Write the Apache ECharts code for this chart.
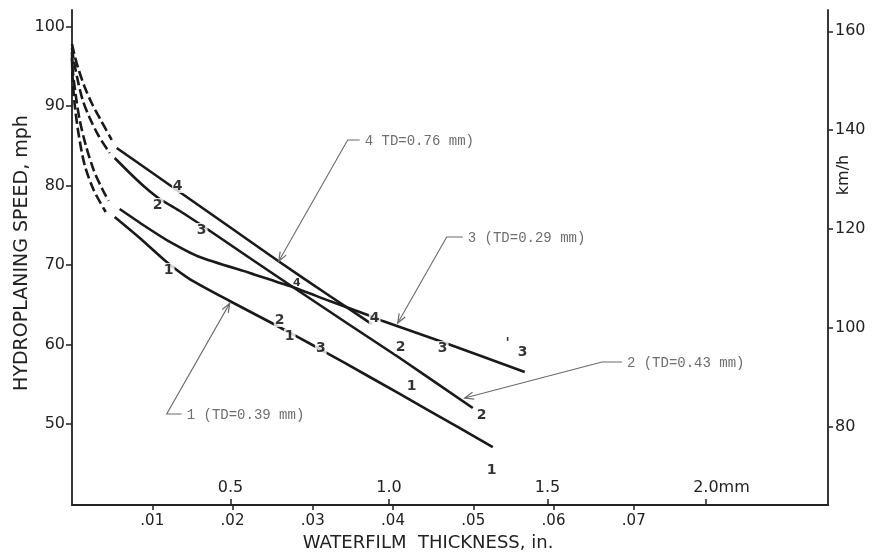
<!DOCTYPE html>
<html>
<head>
<meta charset="utf-8">
<script src="https://cdn.jsdelivr.net/npm/echarts@6/dist/echarts.min.js"></script>
<style>
html,body{margin:0;padding:0;background:#fff;}
#chart{width:886px;height:554px;}
</style>
</head>
<body>
<div id="chart"></div>
<script>
// ---- tick labels ----
const inchTicks = [0.01, 0.02, 0.03, 0.04, 0.05, 0.06, 0.07];
const mmTicks = [0.5, 1.0, 1.5, 2.0];
const mphTicks = [50, 60, 70, 80, 90, 100];
const kmhTicks = [80, 100, 120, 140, 160];

// ---- curves: [waterfilm thickness (in), hydroplaning speed (mph)] ----
const curve1Dashed = [[0,96.06],[0.00009,93.3],[0.00034,90.15],[0.00084,86.38],[0.00158,82.6],[0.0027,79.46],[0.0042,76.69]];
const curve1Solid = [[0.00532,76.06],[0.00844,73.42],[0.0118,70.4],[0.01467,68.26],[0.01965,65.5],[0.02488,62.73],[0.03087,59.46],[0.0371,55.94],[0.04458,51.66],[0.05243,47.13]];
const curve2Dashed = [[0,97.32],[0.00021,95.81],[0.00071,93.3],[0.00133,90.78],[0.00221,88.52],[0.00333,86.25],[0.0047,84.11]];
const curve2Solid = [[0.00532,83.48],[0.00719,81.6],[0.00906,79.84],[0.01094,78.33],[0.01343,76.82],[0.01629,74.93],[0.02215,70.91],[0.02751,67.26],[0.03461,62.48],[0.04084,58.33],[0.04994,52.04]];
const curve3Dashed = [[0,96.82],[0.00009,94.55],[0.00046,91.41],[0.00096,88.26],[0.00171,85.12],[0.0027,81.97],[0.00383,79.46],[0.00458,78.08]];
const curve3Solid = [[0.00594,77.07],[0.00906,74.93],[0.01181,73.17],[0.01592,71.03],[0.02215,69.02],[0.02713,67.38],[0.03211,65.5],[0.03685,63.74],[0.03872,62.98],[0.04582,60.47],[0.05641,56.57]];
const curve4Dashed = [[0,97.82],[0.00034,96.31],[0.00084,94.55],[0.00158,92.42],[0.00245,90.4],[0.00358,88.26],[0.00495,85.75]];
const curve4Solid = [[0.00557,84.74],[0.00968,81.85],[0.01305,79.46],[0.01965,74.81],[0.02551,70.65],[0.03212,66.13],[0.03735,62.6]];

// ---- numbers written along the curves: [in, mph, text] ----
const pointLabels = [
  [0.01317,79.96,'4'],[0.01068,77.57,'2'],[0.01616,74.43,'3'],[0.01205,69.4,'1'],
  [0.03772,63.36,'4'],[0.02588,63.11,'2'],[0.02713,61.1,'1'],[0.031,59.58,'3'],
  [0.04096,59.71,'2'],[0.04619,59.58,'3'],[0.05429,60.21,'\''],[0.05616,59.08,'3'],
  [0.04233,54.8,'1'],[0.05105,51.16,'2'],[0.0523,44.24,'1']
];
const smallLabels = [[0.028,67.76,'4']];

// ---- callouts ----
const calloutText = ['4 TD=0.76 mm)', '3 (TD=0.29 mm)', '2 (TD=0.43 mm)', '1 (TD=0.39 mm)'];
const calloutStart = [[0.03585,85.75],[0.04869,73.55],[0.06852,57.82],[0.01367,51.28]];
const calloutElbow = [[0.03435,85.75],[0.04669,73.55],[0.06603,57.82],[0.0118,51.28]];
const calloutTip = [[0.02576,70.5],[0.04059,62.73],[0.04893,53.3],[0.01965,65.2]];

const MPH_MIN = 39.84, MPH_MAX = 102.1, KMH_PER_MPH = 1.609344;
const INCH_MAX = 0.0942;

const ink = '#1a1a1a';
const axisInk = '#222';
const sans = '"DejaVu Sans", sans-serif';

function lineSeries(data, dashed) {
  return {
    type: 'line', data: data, xAxisIndex: 0, yAxisIndex: 0,
    showSymbol: false, symbol: 'none', smooth: dashed ? 0.3 : 0.2,
    lineStyle: { color: ink, width: 2.6, type: dashed ? [10, 4] : 'solid', cap: 'butt' },
    silent: true, z: 3
  };
}

const calloutData = calloutText.map((t, i) => [
  calloutStart[i][0], calloutStart[i][1],
  calloutElbow[i][0], calloutElbow[i][1],
  calloutTip[i][0], calloutTip[i][1]
]);

const chart = echarts.init(document.getElementById('chart'), null, { renderer: 'canvas' });
const option = {
  animation: false,
  backgroundColor: '#fff',
  grid: { left: 72, right: 58, top: 10, bottom: 49, containLabel: false, outerBoundsMode: 'none' },
  xAxis: [
    {
      type: 'value', position: 'bottom', min: 0, max: INCH_MAX,
      axisLine: { show: true, onZero: false, lineStyle: { color: axisInk, width: 1.8 } },
      axisTick: { show: true, length: 5, customValues: inchTicks, lineStyle: { color: axisInk, width: 1.5 } },
      axisLabel: {
        show: true, margin: 9, customValues: inchTicks, color: axisInk, fontSize: 15, fontFamily: sans,
        formatter: v => '.' + String(Math.round(v * 100)).padStart(2, '0')
      },
      splitLine: { show: false }
    },
    {
      type: 'value', position: 'bottom', offset: 0, min: 0, max: 2.385,
      axisLine: { show: false },
      axisTick: { show: true, inside: true, length: 6, customValues: mmTicks, lineStyle: { color: axisInk, width: 1.5 } },
      axisLabel: {
        show: true, inside: true, margin: 9, customValues: mmTicks, color: axisInk, fontSize: 16, fontFamily: sans,
        formatter: v => (Math.abs(v - 2) < 1e-9 ? '{a|2.0}{b|mm}' : v.toFixed(1)),
        rich: {
          a: { fontSize: 16, fontFamily: sans, color: axisInk, padding: [0, 0, 0, 31] },
          b: { fontSize: 16, fontFamily: sans, color: axisInk }
        }
      },
      splitLine: { show: false }
    }
  ],
  yAxis: [
    {
      type: 'value', position: 'left', min: MPH_MIN, max: MPH_MAX,
      axisLine: { show: true, onZero: false, lineStyle: { color: axisInk, width: 1.8 } },
      axisTick: { show: true, length: 6, customValues: mphTicks, lineStyle: { color: axisInk, width: 1.5 } },
      axisLabel: { show: true, margin: 7, customValues: mphTicks, color: axisInk, fontSize: 16, fontFamily: sans },
      splitLine: { show: false }
    },
    {
      type: 'value', position: 'right', min: MPH_MIN * KMH_PER_MPH, max: MPH_MAX * KMH_PER_MPH,
      axisLine: { show: true, onZero: false, lineStyle: { color: axisInk, width: 1.8 } },
      axisTick: { show: true, length: 5, customValues: kmhTicks, lineStyle: { color: axisInk, width: 1.5 } },
      axisLabel: { show: true, margin: 7, customValues: kmhTicks, color: axisInk, fontSize: 16, fontFamily: sans },
      splitLine: { show: false }
    }
  ],
  graphic: [
    { type: 'text', x: 22, y: 253, rotation: Math.PI / 2, silent: true,
      style: { text: 'HYDROPLANING SPEED, mph', font: '19px "DejaVu Sans"', fill: axisInk, textAlign: 'center', textVerticalAlign: 'middle' } },
    { type: 'text', x: 844, y: 175, rotation: Math.PI / 2, silent: true,
      style: { text: 'km/h', font: '16px "DejaVu Sans"', fill: axisInk, textAlign: 'center', textVerticalAlign: 'middle' } },
    { type: 'text', x: 428, y: 543, silent: true,
      style: { text: 'WATERFILM  THICKNESS, in.', font: '18px "DejaVu Sans"', fill: axisInk, textAlign: 'center', textVerticalAlign: 'middle' } }
  ],
  series: [
    lineSeries(curve1Dashed, true), lineSeries(curve1Solid, false),
    lineSeries(curve2Dashed, true), lineSeries(curve2Solid, false),
    lineSeries(curve3Dashed, true), lineSeries(curve3Solid, false),
    lineSeries(curve4Dashed, true), lineSeries(curve4Solid, false),
    {
      type: 'scatter', data: pointLabels, symbol: 'circle', symbolSize: 2,
      itemStyle: { color: 'rgba(0,0,0,0)' }, silent: true, z: 5,
      label: {
        show: true, position: 'inside', formatter: p => p.value[2],
        color: '#000', fontSize: 14, fontWeight: 'bold', fontFamily: sans,
        backgroundColor: '#fff', padding: [0, 1]
      },
      labelLayout: { hideOverlap: false }
    },
    {
      type: 'scatter', data: smallLabels, symbol: 'circle', symbolSize: 2,
      itemStyle: { color: 'rgba(0,0,0,0)' }, silent: true, z: 5,
      label: { show: true, position: 'inside', formatter: p => p.value[2], color: '#000', fontSize: 11, fontWeight: 'bold', fontFamily: sans }
    },
    {
      type: 'custom', data: calloutData, clip: false, silent: true, z: 6,
      encode: { x: [0, 2, 4], y: [1, 3, 5] },
      renderItem: function (params, api) {
        const i = params.dataIndex;
        const a = api.coord([api.value(0), api.value(1)]);
        const e = api.coord([api.value(2), api.value(3)]);
        const t = api.coord([api.value(4), api.value(5)]);
        const dx = t[0] - e[0], dy = t[1] - e[1];
        const len = Math.hypot(dx, dy) || 1;
        const ux = dx / len, uy = dy / len;
        const L = 9, W = 3.5;
        const b = [t[0] - ux * L, t[1] - uy * L];
        const l = [b[0] - uy * W, b[1] + ux * W];
        const r = [b[0] + uy * W, b[1] - ux * W];
        return {
          type: 'group',
          children: [
            { type: 'polyline', shape: { points: [a, e, t] }, style: { stroke: '#6a6a6a', lineWidth: 1.1, fill: 'none' } },
            { type: 'polyline', shape: { points: [l, t, r] }, style: { stroke: '#6a6a6a', lineWidth: 1.2, fill: 'none' } },
            { type: 'text', x: a[0] + 5, y: a[1] + 1,
              style: { text: calloutText[i], font: '14px "Liberation Mono"', fill: '#6e6e6e', textAlign: 'left', textVerticalAlign: 'middle' } }
          ]
        };
      }
    }
  ]
};
chart.setOption(option);
</script>
</body>
</html>
